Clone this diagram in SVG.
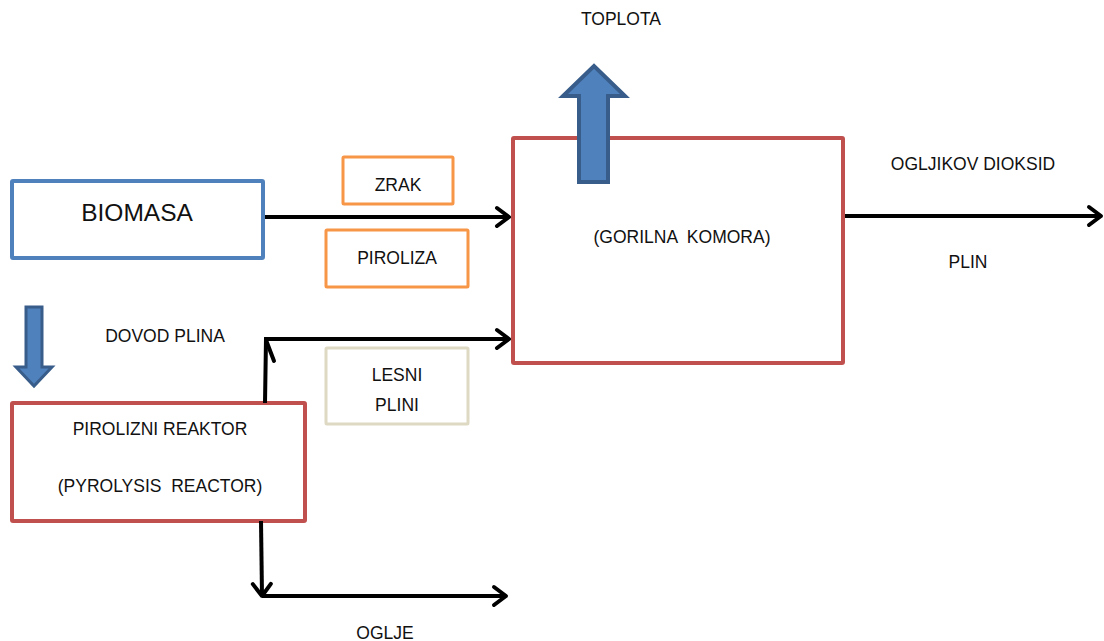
<svg xmlns="http://www.w3.org/2000/svg" width="1104" height="641" viewBox="0 0 1104 641">
<defs>
<marker id="chev" markerUnits="userSpaceOnUse" markerWidth="24" markerHeight="24" refX="18" refY="12" orient="auto" viewBox="0 0 24 24">
<path d="M6,3 L18,12 L6,21" fill="none" stroke="#000" stroke-width="4" stroke-linecap="round" stroke-linejoin="round"/>
</marker>
</defs>
<style>
.t{font-family:"Liberation Sans",Arial,sans-serif;font-size:17.5px;fill:#111;text-anchor:middle;white-space:pre}
.blue{fill:#fff;stroke:#4f81bd;stroke-width:4}
.red{fill:#fff;stroke:#c0504d;stroke-width:4}
.orange{fill:#fff;stroke:#f79646;stroke-width:3}
.tan{fill:#fff;stroke:#ddd9c3;stroke-width:3}
.conn{fill:none;stroke:#000;stroke-width:4;stroke-linejoin:miter}
.barrow{fill:#4f81bd;stroke:#385d8a;stroke-width:4}
</style>
<rect width="1104" height="641" fill="#fff"/>

<g id="komora">
<rect class="red" x="513" y="138" width="330" height="225" rx="1"/>
<text class="t" x="682" y="243" xml:space="preserve">(GORILNA  KOMORA)</text>
</g>

<g id="biomasa">
<rect class="blue" x="12" y="181" width="251" height="77" rx="1"/>
<text class="t" x="137" y="221" style="font-size:24.5px">BIOMASA</text>
</g>

<g id="reaktor">
<rect class="red" x="12" y="403" width="293" height="118" rx="1"/>
<text class="t" x="160" y="435">PIROLIZNI REAKTOR</text>
<text class="t" x="160" y="492" xml:space="preserve">(PYROLYSIS  REACTOR)</text>
</g>

<g id="zrak">
<rect class="orange" x="343" y="157" width="110" height="47" rx="1"/>
<text class="t" x="398" y="191">ZRAK</text>
</g>

<g id="piroliza">
<rect class="orange" x="326" y="230" width="142" height="57" rx="1"/>
<text class="t" x="397" y="264">PIROLIZA</text>
</g>

<g id="lesni-plini">
<rect class="tan" x="326" y="348" width="142" height="76" rx="1"/>
<text class="t" x="397" y="381">LESNI</text>
<text class="t" x="397" y="411">PLINI</text>
</g>

<g id="toplota">
<path class="barrow" d="M579,182 L579,96 L563,96 L594,66 L625,96 L608,96 L608,182 Z"/>
<text class="t" x="621" y="25">TOPLOTA</text>
</g>

<g id="dovod-plina">
<path class="barrow" d="M26,307 L42,307 L42,367 L52,367 L34,386 L16,367 L26,367 Z" style="stroke-width:3"/>
<text class="t" x="165" y="342">DOVOD PLINA</text>
</g>

<g id="labels">
<text class="t" x="973" y="170">OGLJIKOV DIOKSID</text>
<text class="t" x="968" y="268">PLIN</text>
<text class="t" x="385" y="639">OGLJE</text>
</g>

<g id="connectors">
<line class="conn" x1="265" y1="217" x2="509" y2="217" marker-end="url(#chev)"/>
<line class="conn" x1="845" y1="216" x2="1101" y2="216" marker-end="url(#chev)"/>
<polyline class="conn" points="265,403 266,339 509,339" marker-end="url(#chev)"/>
<line class="conn" x1="266" y1="340" x2="274" y2="361" stroke-linecap="round"/>
<polyline class="conn" points="261,521 262,596" marker-end="url(#chev)"/>
<line class="conn" x1="262" y1="596" x2="506" y2="596" marker-end="url(#chev)"/>
</g>
</svg>
